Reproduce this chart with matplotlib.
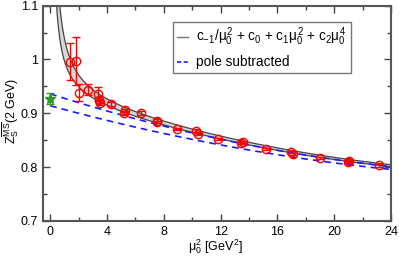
import numpy as np
import matplotlib
matplotlib.use("Agg")
import matplotlib.pyplot as plt
from matplotlib.ticker import MultipleLocator
from matplotlib.lines import Line2D

plt.rcParams['font.family'] = ['Liberation Sans', 'DejaVu Sans']
plt.rcParams['mathtext.fontset'] = 'custom'
plt.rcParams['mathtext.rm'] = 'Liberation Sans'
plt.rcParams['mathtext.it'] = 'Liberation Sans'
plt.rcParams['mathtext.bf'] = 'Liberation Sans:bold'

# data points (mu0^2, Z_S, error)
mu2 = [1.36, 1.85, 2.02, 2.63, 3.38, 3.45, 3.50, 4.30, 5.23, 5.30, 6.39, 7.50, 7.55,
       8.92, 10.30, 10.40, 11.85, 13.45, 13.55, 15.20, 16.99, 17.10, 18.97, 21.00,
       21.05, 23.17]
zs = [0.9955, 0.997, 0.9386, 0.944, 0.9367, 0.925, 0.920, 0.9167, 0.9005, 0.9056,
      0.9006, 0.8857, 0.884, 0.8715, 0.868, 0.862, 0.853, 0.8455, 0.847, 0.834,
      0.828, 0.825, 0.8175, 0.810, 0.811, 0.803]
zs_err = [0.0345, 0.044, 0.016, 0.010, 0.013, 0.006, 0.005, 0.004, 0.004, 0.003,
          0.003, 0.003, 0.002, 0.002, 0.002, 0.002, 0.002, 0.002, 0.002, 0.002,
          0.002, 0.002, 0.002, 0.002, 0.002, 0.002]

# extrapolated value at mu0^2 = 0
x0_val = [0.0]
z0_val = [0.927]
z0_err = [0.0105]

# fit band coefficients: c_{-1}, c0, c1, c2
band_upper = [0.121, 0.926, -0.0078, 1.05e-4]
band_lower = [0.081, 0.924, -0.0078, 1.05e-4]
# pole-subtracted curves (c0, c1, c2)
pole_sub_upper = [0.936, -0.0084, 1.155e-4]
pole_sub_lower = [0.914, -0.0072, 0.945e-4]

fig = plt.figure(figsize=(3.99, 2.56), dpi=100)
ax = fig.add_axes([0.108, 0.137, 0.872, 0.841])

def full(c, x):
    return c[0] / x + c[1] + c[2] * x + c[3] * x ** 2

def poly(c, x):
    return c[0] + c[1] * x + c[2] * x ** 2

xf = np.linspace(0.3, 24.0, 600)
ax.fill_between(xf, full(band_lower, xf), full(band_upper, xf), color='#d6d6d6',
                lw=0, zorder=1)
ax.plot(xf, full(band_upper, xf), color='#444444', lw=0.9, zorder=2)
ax.plot(xf, full(band_lower, xf), color='#444444', lw=0.9, zorder=2)

xd = np.linspace(0.0, 24.0, 300)
ax.plot(xd, poly(pole_sub_upper, xd), color='#1a1aff', lw=1.2, ls=(0, (4, 3)), zorder=3)
ax.plot(xd, poly(pole_sub_lower, xd), color='#1a1aff', lw=1.2, ls=(0, (4, 3)), zorder=3)

ax.errorbar(mu2, zs, yerr=zs_err, fmt='o', mfc='none', mec='red', ecolor='red',
            ms=6, mew=1.0, elinewidth=1.0, capsize=3, capthick=1.0, zorder=4)
ax.errorbar(x0_val, z0_val, yerr=z0_err, fmt='*', color='#2a9a2a', ms=8,
            elinewidth=1.0, capsize=3, capthick=1.0, zorder=4)

ax.set_xlim(-0.5, 24)
ax.set_ylim(0.7, 1.1)
ax.xaxis.set_major_locator(MultipleLocator(4))
ax.xaxis.set_minor_locator(MultipleLocator(2))
ax.yaxis.set_minor_locator(MultipleLocator(0.05))
ax.set_yticks([0.7, 0.8, 0.9, 1.0, 1.1])
ax.set_yticklabels(['0.7', '0.8', '0.9', '1', '1.1'])
ax.tick_params(which='both', direction='in', top=True, right=True, labelsize=9,
               color='#444444', width=1.0)
ax.tick_params(which='major', length=5)
ax.tick_params(which='minor', length=3)
for s in ax.spines.values():
    s.set_color('#555555')
    s.set_linewidth(1.5)

ax.set_xlabel(r'$\mu_0^2$ [GeV$^2$]', fontsize=9)
ax.xaxis.set_label_coords(0.494, -0.078)
ax.set_ylabel(r'Z$_S^{\overline{\mathrm{MS}}}$(2 GeV)', fontsize=9.0)
ax.yaxis.set_label_coords(-0.063, 0.51)

handles = [Line2D([], [], color='#777777', lw=1.0),
           Line2D([], [], color='#1a1aff', lw=1.2, ls=(0, (2.5, 1.5)))]
labels = [r'$\mathrm{c}_{-1}/\mu_0^2$ + $\mathrm{c}_0$ + $\mathrm{c}_1\mu_0^2$ + $\mathrm{c}_2\mu_0^4$',
          'pole subtracted']
leg = ax.legend(handles, labels, loc='upper right', bbox_to_anchor=(0.884, 0.925),
                fontsize=9.8, frameon=True, fancybox=False, handlelength=0.8,
                handletextpad=0.6, borderpad=0.3, labelspacing=0.5, borderaxespad=0)
leg.get_frame().set_edgecolor('#555555')
leg.get_frame().set_linewidth(1.0)

fig.savefig('out.png', dpi=100)
